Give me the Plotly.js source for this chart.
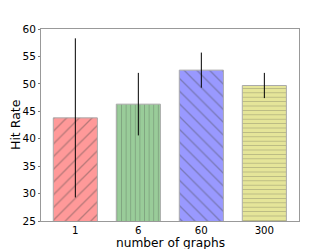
<!DOCTYPE html>
<html><head><meta charset="utf-8">
<script src="https://cdn.plot.ly/plotly-3.0.1.min.js"></script>
<style>html,body{margin:0;padding:0;background:#fff}</style>
</head><body>
<div id="chart" style="width:332px;height:249px"></div>
<script>
const categories = ["1", "6", "60", "300"];
const hitRate = [43.8, 46.3, 52.5, 49.7];
const errors = [14.5, 5.7, 3.2, 2.3];
const barColors = ["#ff9999", "#99cc99", "#9999ff", "#e5e599"];
const hatches = ["/", "|", "\\", "-"];

const trace = {
  type: "bar",
  x: categories,
  y: hitRate,
  width: 0.7,
  marker: {
    color: barColors,
    line: {color: "#aaaaaa", width: 1},
    pattern: {shape: hatches, fillmode: "overlay", fgcolor: "#888888", fgopacity: 0.38, size: [9, 4.6, 9, 4.4], solidity: 0.15}
  },
  error_y: {type: "data", array: errors, visible: true, color: "#000000", thickness: 1, width: 0}
};

const layout = {
  width: 332, height: 249,
  margin: {l: 41, r: 33, t: 29, b: 28},
  paper_bgcolor: "#fff", plot_bgcolor: "#fff",
  showlegend: false,
  font: {family: "DejaVu Sans", size: 10, color: "#000"},
  xaxis: {
    type: "category", range: [-0.545, 3.55],
    showgrid: false, zeroline: false,
    showline: true, mirror: true, linecolor: "#999999", linewidth: 1,
    ticks: "",
    tickfont: {size: 10.2}
  },
  yaxis: {
    range: [25, 60], dtick: 5,
    showgrid: false, zeroline: false,
    showline: true, mirror: true, linecolor: "#999999", linewidth: 1,
    ticks: "outside", ticklen: 2, tickcolor: "#777",
    tickfont: {size: 10.5}
  },
  annotations: [{
    text: "Hit Rate", textangle: -90, showarrow: false,
    xref: "paper", yref: "paper", x: 0, y: 0.5,
    xanchor: "center", yanchor: "middle", xshift: -26,
    font: {size: 12.5}
  }, {
    text: "number of graphs", showarrow: false,
    xref: "paper", yref: "paper", x: 0.5, y: 0,
    xanchor: "center", yanchor: "middle", yshift: -22,
    font: {size: 12.2}
  }]
};

Plotly.newPlot("chart", [trace], layout, {staticPlot: true, displayModeBar: false});
</script>
</body></html>
